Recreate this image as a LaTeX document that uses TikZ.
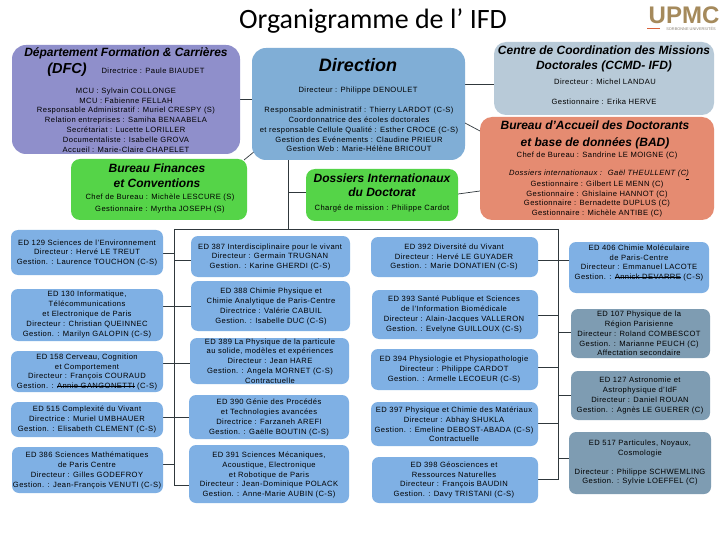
\documentclass[tikz,border=0pt]{standalone}
\usepackage{fontspec}
\usepackage{calc}
\setmainfont{Liberation Sans}
\newfontfamily\titlefont{Carlito}
\newfontfamily\smf[LetterSpace=5.5]{Liberation Sans}
\newcommand{\st}[1]{\rlap{\rule[0.28em]{\widthof{#1}}{0.5pt}}#1}
\definecolor{dfc}{HTML}{8F8FCB}
\definecolor{dirc}{HTML}{80AED6}
\definecolor{ccmd}{HTML}{B8CAD8}
\definecolor{bad}{HTML}{E58B71}
\definecolor{grn}{HTML}{55D448}
\definecolor{edb}{HTML}{7FB0E4}
\definecolor{edg}{HTML}{7E9CB2}
\definecolor{logoc}{HTML}{A58A5C}
\definecolor{logod}{HTML}{8C8478}
\definecolor{logor}{HTML}{D8623A}
\definecolor{lin}{HTML}{30383C}
\tikzset{
  conn/.style={draw=lin, line width=0.7pt},
  small/.style={font=\smf\fontsize{7.6}{9.8}\selectfont, align=center, text=black, inner sep=0pt},
  edtext/.style={font=\smf\fontsize{7.6}{9.8}\selectfont, align=center, text=black, inner sep=0pt},
  head/.style={align=center, inner sep=0pt},
}
\newcommand{\bx}[6]{% name, color, x1,y1,x2,y2
  \path[rounded corners=\bxr, fill=#2] (#3,#4) rectangle (#5,#6);
  \coordinate (#1) at ({(#3+#5)/2},{(#4+#6)/2});
}
\newcommand{\ed}[4]{\node[edtext] (#1) at (#2,#3) {#4};}
\begin{document}
\begin{tikzpicture}[x=1pt,y=-1pt]
\useasboundingbox (0,0) rectangle (720,540);
\fill[white] (0,0) rectangle (720,540);
% connectors
\coordinate (jt) at (288,229);
\coordinate (jl) at (174.5,229);
\coordinate (jr) at (558,229);
\coordinate (jlb) at (174.5,485);
\coordinate (jrb) at (558,479);
\draw[conn] (288,160) -- (jt);
\draw[conn] (288,192) -- (306,192);
\draw[conn] (jl) -- (jr);
\draw[conn] (jl) -- (jlb) -- (190,485);
\draw[conn] (jr) -- (jrb) -- (537,479);
\draw[conn] (240,99) -- (252,99);
\draw[conn] (465,84) -- (494,84);
\draw[conn] (465,123) -- (480,131);
\draw[conn] (244,160) -- (255,151);
\draw[conn] (458,194) -- (480,191);
\draw[conn] (163,253) -- (174.5,253);
\draw[conn] (174.5,260) -- (191,260);
\draw[conn] (163,306) -- (191,306);
\draw[conn] (163,363) -- (190,363);
\draw[conn] (163,417) -- (189,417);
\draw[conn] (163,464) -- (174.5,464);
\draw[conn] (535,260) -- (569,260);
\draw[conn] (537,315) -- (558,315);
\draw[conn] (558,332) -- (571,332);
\draw[conn] (537,367) -- (558,367);
\draw[conn] (558,395) -- (571,395);
\draw[conn] (537,423) -- (558,423);
\draw[conn] (558,458) -- (569,458);
% top boxes
\def\bxr{14pt}
\bx{dfcb}{dfc}{12}{45}{240}{154}
\bx{dirb}{dirc}{252}{48}{465}{160}
\def\bxr{12pt}
\bx{ccmdb}{ccmd}{494}{42}{714}{115}
\bx{badb}{bad}{480}{117}{714}{220}
\def\bxr{9pt}
\bx{finb}{grn}{71}{159}{247}{220}
\bx{dosb}{grn}{306}{169}{458}{221}
% ED boxes
\def\bxr{7pt}
\bx{e129}{edb}{11}{230}{163}{275}
\bx{e130}{edb}{11}{289}{163}{341}
\bx{e168}{edb}{11}{351}{163}{392}
\bx{e516}{edb}{11}{402}{163}{437}
\bx{e386}{edb}{12}{447}{163}{493}
\bx{e387}{edb}{191}{236}{350}{277}
\bx{e388}{edb}{191}{281}{350}{331}
\bx{e389}{edb}{190}{338}{349}{384}
\bx{e390}{edb}{189}{395}{349}{439}
\bx{e391}{edb}{189}{445}{349}{503}
\bx{e392}{edb}{371}{237}{538}{277}
\bx{e393}{edb}{372}{290}{538}{339}
\bx{e394}{edb}{371}{349}{538}{390}
\bx{e397}{edb}{371}{402}{538}{446}
\bx{e398}{edb}{372}{457}{538}{503}
\bx{e406}{edb}{569}{242}{709}{293}
\bx{e107}{edg}{571}{309}{710}{358}
\bx{e127}{edg}{571}{371}{710}{420}
\bx{e517}{edg}{569}{432}{711}{494}
% title
\node[font=\titlefont\fontsize{28}{32}\selectfont, inner sep=0pt] (title) at (373,21) {Organigramme de l’ IFD};
% logo
\node[font=\bfseries\fontsize{24}{24}\selectfont, text=logoc, inner sep=0pt] (logo) at (684,15.5) {UPMC};
\fill[logor] (647,28) rectangle (660,29.5);
\node[font=\fontsize{3.9}{4}\selectfont, text=logod, inner sep=0pt] (logos) at (691,29) {SORBONNE UNIVERSITÉS};
% DFC
\node[head, font=\fontsize{12}{14}\selectfont\itshape\bfseries] (dfc1) at (126,53) {Département Formation \& Carrières};
\node[head, font=\fontsize{14.5}{16}\selectfont\itshape\bfseries] (dfc2) at (67,70) {(DFC)};
\node[small] (dfc3) at (153,71) {Directrice : Paule BIAUDET};
\node[small] (dfc4) at (126,120) {MCU : Sylvain COLLONGE\\MCU : Fabienne FELLAH\\Responsable Administratif : Muriel CRESPY (S)\\Relation entreprises : Samiha BENAABELA\\Secrétariat : Lucette LORILLER\\Documentaliste : Isabelle GROVA\\Accueil : Marie-Claire CHAPELET};
% Direction
\node[head, font=\fontsize{18}{20}\selectfont\itshape\bfseries] (dir1) at (358,65) {Direction};
\node[small] (dir2) at (358,91) {Directeur : Philippe DENOULET};
\node[small] (dir3) at (359,129.5) {Responsable administratif : Thierry LARDOT (C-S)\\Coordonnatrice des écoles doctorales\\et responsable Cellule Qualité : Esther CROCE (C-S)\\Gestion des Evénements : Claudine PRIEUR\\Gestion Web : Marie-Hélène BRICOUT};
% CCMD
\node[head, font=\fontsize{12}{15.5}\selectfont\itshape\bfseries] (cc1) at (604,59) {Centre de Coordination des Missions\\Doctorales (CCMD- IFD)};
\node[small] (cc2) at (605,82) {Directeur : Michel LANDAU};
\node[small] (cc3) at (604,102) {Gestionnaire : Erika HERVE};
% BAD
\node[head, font=\fontsize{12}{16.5}\selectfont\itshape\bfseries] (bad1) at (595,135) {Bureau d’Accueil des Doctorants\\et base de données (BAD)};
\node[small] (bad2) at (597,156) {Chef de Bureau : Sandrine LE MOIGNE (C)};
\node[small, font=\smf\fontsize{7.6}{9.8}\selectfont\itshape] (bad3) at (599,175) {Dossiers internationaux : \ Gaël THEULLENT (C\underline{)}};
\node[small, font=\smf\fontsize{7.6}{9.4}\selectfont] (bad4) at (597,199) {Gestionnaire : Gilbert LE MENN (C)\\Gestionnaire : Ghislaine HANNOT (C)\\Gestionnaire : Bernadette DUPLUS (C)\\Gestionnaire : Michèle ANTIBE (C)};
% Finances
\node[head, font=\fontsize{12}{15}\selectfont\itshape\bfseries] (fin1) at (157,175.5) {Bureau Finances\\et Conventions};
\node[small, font=\smf\fontsize{7.6}{11.2}\selectfont] (fin2) at (160,203.5) {Chef de Bureau : Michèle LESCURE (S)\\Gestionnaire : Myrtha JOSEPH (S)};
% Dossiers
\node[head, font=\fontsize{12}{14.5}\selectfont\itshape\bfseries] (dos1) at (382,185) {Dossiers Internationaux\\du Doctorat};
\node[small] (dos2) at (382,208) {Chargé de mission : Philippe Cardot};
% ED texts
\ed{t129}{87}{253}{ED 129 Sciences de l’Environnement\\Directeur : Hervé LE TREUT\\Gestion. : Laurence TOUCHON (C-S)}
\ed{t130}{87}{314.5}{ED 130 Informatique,\\Télécommunications\\et Electronique de Paris\\Directeur : Christian QUEINNEC\\Gestion. : Marilyn GALOPIN (C-S)}
\ed{t168}{87}{372}{ED 158 Cerveau, Cognition\\et Comportement\\Directeur : François COURAUD\\Gestion. : \st{Annie GANGONETTI} (C-S)}
\ed{t516}{87}{419.5}{ED 515 Complexité du Vivant\\Directrice : Muriel UMBHAUER\\Gestion. : Elisabeth CLEMENT (C-S)}
\ed{t386}{87}{470.5}{ED 386 Sciences Mathématiques\\de Paris Centre\\Directeur : Gilles GODEFROY\\Gestion. : Jean-François VENUTI (C-S)}
\ed{t387}{270}{257}{ED 387 Interdisciplinaire pour le vivant\\Directeur : Germain TRUGNAN\\Gestion. : Karine GHERDI (C-S)}
\ed{t388}{271}{306.5}{ED 388 Chimie Physique et\\Chimie Analytique de Paris-Centre\\Directrice : Valérie CABUIL\\Gestion. : Isabelle DUC (C-S)}
\ed{t389}{270}{361}{ED 389 La Physique de la particule\\au solide, modèles et expériences\\Directeur : Jean HARE\\Gestion. : Angela MORNET (C-S)\\Contractuelle}
\ed{t390}{269}{417.5}{ED 390 Génie des Procédés\\et Technologies avancées\\Directrice : Farzaneh AREFI\\Gestion. : Gaëlle BOUTIN (C-S)}
\ed{t391}{269}{475}{ED 391 Sciences Mécaniques,\\Acoustique, Electronique\\et Robotique de Paris\\Directeur : Jean-Dominique POLACK\\Gestion. : Anne-Marie AUBIN (C-S)}
\ed{t392}{454}{257}{ED 392 Diversité du Vivant\\Directeur : Hervé LE GUYADER\\Gestion. : Marie DONATIEN (C-S)}
\ed{t393}{454}{314.5}{ED 393 Santé Publique et Sciences\\de l’Information Biomédicale\\Directeur : Alain-Jacques VALLERON\\Gestion. : Evelyne GUILLOUX (C-S)}
\ed{t394}{454}{369.5}{ED 394 Physiologie et Physiopathologie\\Directeur : Philippe CARDOT\\Gestion. : Armelle LECOEUR (C-S)}
\ed{t397}{454}{424.5}{ED 397 Physique et Chimie des Matériaux\\Directeur : Abhay SHUKLA\\Gestion. : Emeline DEBOST-ABADA (C-S)\\Contractuelle}
\ed{t398}{454}{480}{ED 398 Géosciences et\\Ressources Naturelles\\Directeur : François BAUDIN\\Gestion. : Davy TRISTANI (C-S)}
\ed{t406}{639}{263}{ED 406 Chimie Moléculaire\\de Paris-Centre\\Directeur : Emmanuel LACOTE\\Gestion. : \st{Annick DEVARRE} (C-S)}
\ed{t107}{639}{333.5}{ED 107 Physique de la\\Région Parisienne\\Directeur : Roland COMBESCOT\\Gestion. : Marianne PEUCH (C)\\Affectation secondaire}
\ed{t127}{640}{395.5}{ED 127 Astronomie et\\Astrophysique d’IdF\\Directeur : Daniel ROUAN\\Gestion. : Agnès LE GUERER (C)}
\node[edtext] (t517a) at (640,448.5) {ED 517 Particules, Noyaux,\\Cosmologie};
\node[edtext] (t517b) at (640,477) {Directeur : Philippe SCHWEMLING\\Gestion. : Sylvie LOEFFEL (C)};
\end{tikzpicture}
\end{document}
